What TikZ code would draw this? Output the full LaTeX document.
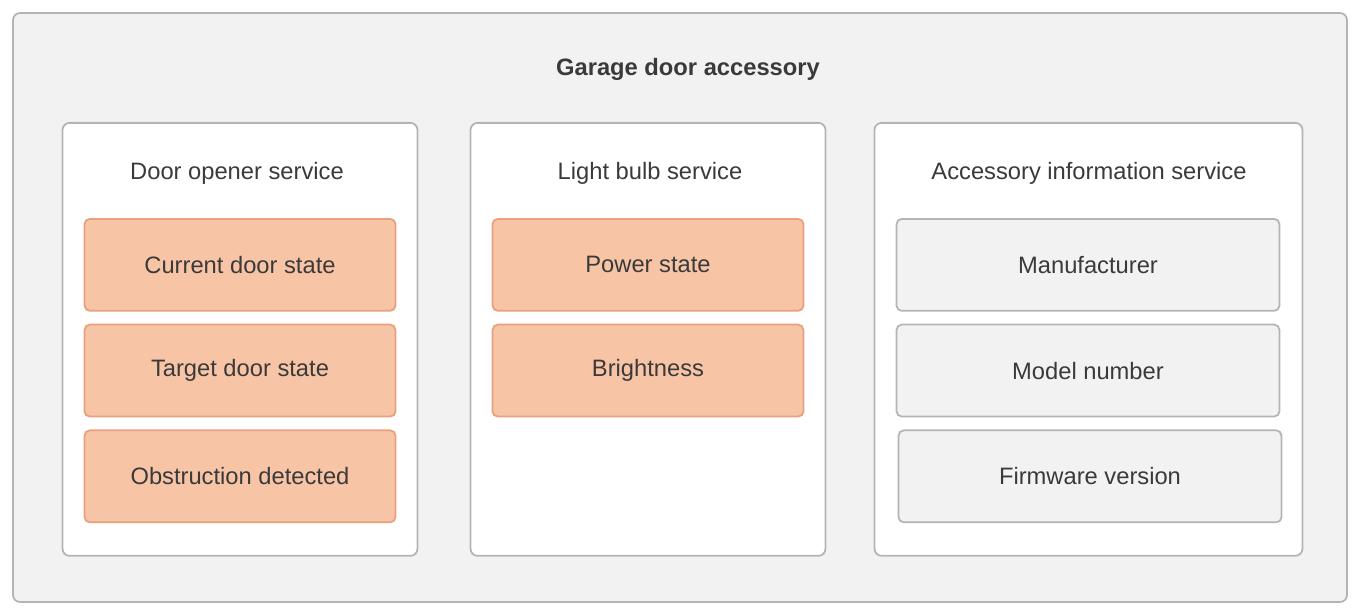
\documentclass[tikz,border=0pt]{standalone}
\usepackage{fontspec}
\setmainfont{Liberation Sans}
\usetikzlibrary{positioning}
\definecolor{panelgray}{HTML}{F2F2F2}
\definecolor{linegray}{HTML}{B4B4B4}
\definecolor{peach}{HTML}{F8C4A6}
\definecolor{peachline}{HTML}{E9A07E}
\definecolor{textgray}{HTML}{3A3A3A}
\tikzset{
  outerbox/.style = {draw=linegray, fill=panelgray, line width=1pt, rounded corners=4pt},
  servicebox/.style = {draw=linegray, fill=white, line width=1pt, rounded corners=4pt,
                       minimum height=8.66cm, anchor=north},
  charbox/.style = {draw=peachline, fill=peach, line width=1pt, rounded corners=3pt,
                    minimum height=1.84cm, text=textgray, font=\fontsize{13.5}{16}\selectfont, anchor=north},
  infobox/.style = {charbox, draw=linegray, fill=panelgray},
  caption/.style = {text=textgray, font=\fontsize{13.5}{16}\selectfont}
}
\begin{document}
\begin{tikzpicture}[x=0.02cm, y=-0.02cm]
                \useasboundingbox (0,0) rectangle (1360,615);
                \draw[outerbox] (13,13) rectangle (1347,602);
                \node[caption, font=\fontsize{13.5}{16}\selectfont\bfseries] (accessory) at (688,69) {Garage door accessory};
                % services
                \node[servicebox, minimum width=7.1cm] (opener) at (240,122) {};
                \node[servicebox, minimum width=7.1cm] (light) at (648,122) {};
                \node[servicebox, minimum width=8.56cm] (info) at (1088.5,122) {};
                \node[caption] (openert) at (237,173) {Door opener service};
                \node[caption] (lightt) at (650,173) {Light bulb service};
                \node[caption] (infot) at (1089,173) {Accessory information service};
                % characteristics
                \node[charbox, minimum width=6.22cm] (current) at (240,218) {Current door state};
                \node[charbox, minimum width=6.22cm, below=0.24cm of current] (target) {Target door state};
                \node[charbox, minimum width=6.22cm, below=0.24cm of target] (obstruction) {Obstruction detected};
                \node[charbox, minimum width=6.22cm] (power) at (648,218) {Power state};
                \node[charbox, minimum width=6.22cm, below=0.24cm of power] (brightness) {Brightness};
                \node[infobox, minimum width=7.66cm] (maker) at (1088,218) {Manufacturer};
                \node[infobox, minimum width=7.66cm, below=0.24cm of maker] (model) {Model number};
                \node[infobox, minimum width=7.66cm, below=0.24cm of model, xshift=0.04cm] (firmware) {Firmware version};
\end{tikzpicture}
\end{document}
